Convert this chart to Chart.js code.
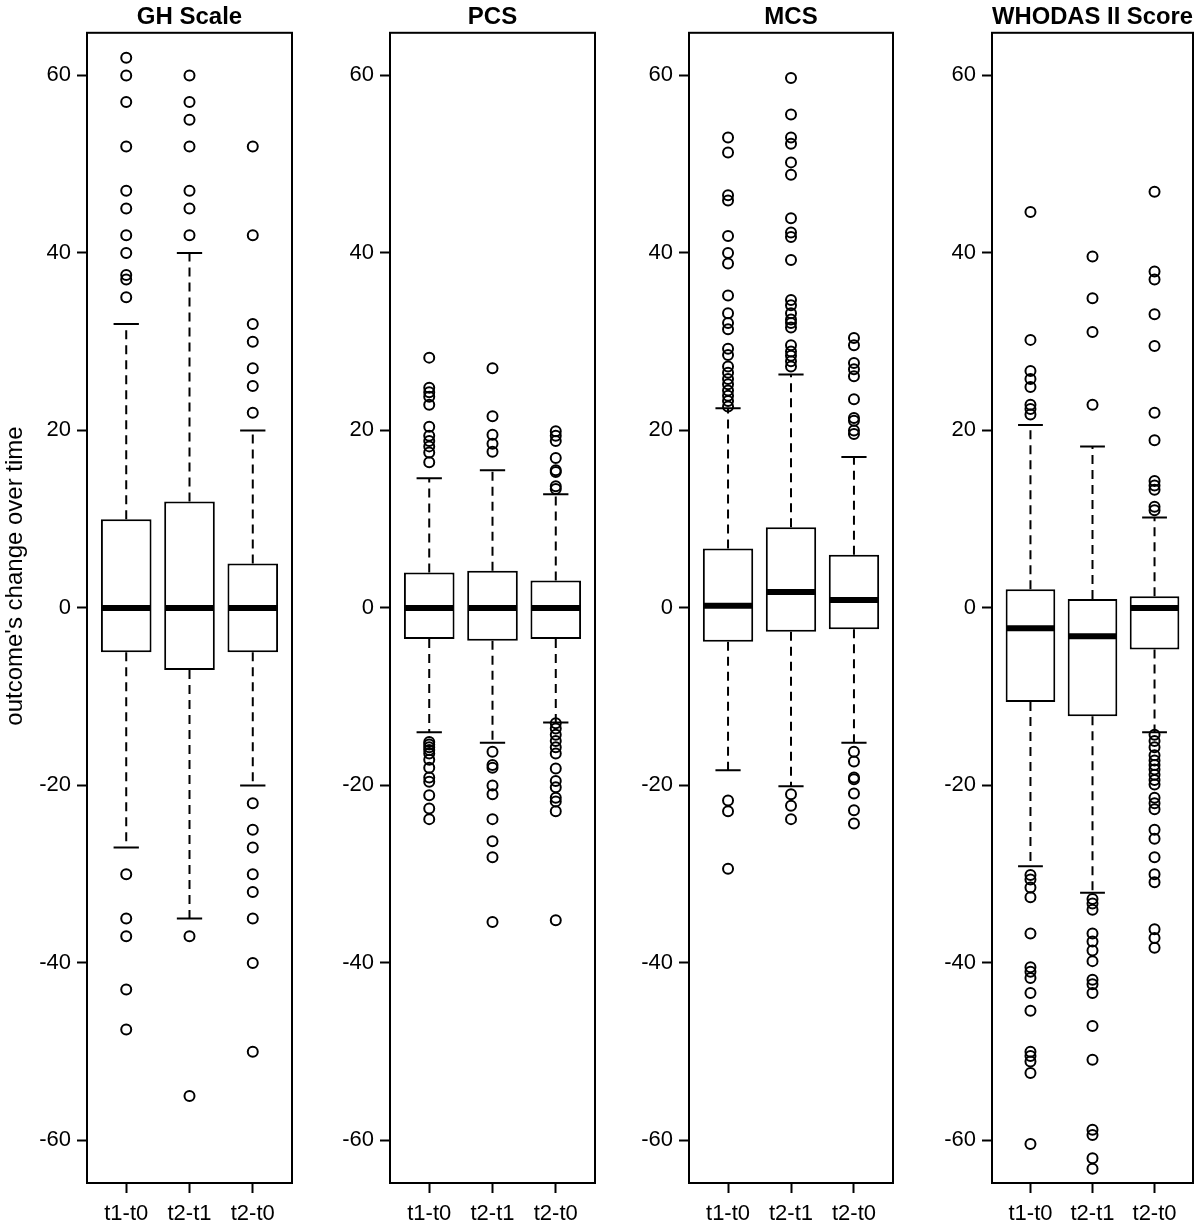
<!DOCTYPE html>
<html>
<head>
<meta charset="utf-8">
<script src="https://cdn.jsdelivr.net/npm/chart.js@4.4.0/dist/chart.umd.min.js"></script>
<style>
  html, body { margin: 0; padding: 0; background: #fff; }
  #wrap { position: relative; width: 1200px; height: 1228px; overflow: hidden; background: #fff; }
  canvas { position: absolute; top: 0; }
</style>
</head>
<body>
<div id="wrap">
  <canvas id="p0"></canvas>
  <canvas id="p1"></canvas>
  <canvas id="p2"></canvas>
  <canvas id="p3"></canvas>
</div>
<script>
const categories = ["t1-t0", "t2-t1", "t2-t0"];
const yTicks = [-60, -40, -20, 0, 20, 40, 60];
const panelTitles = ["GH Scale", "PCS", "MCS", "WHODAS II Score"];
const yLabel = "outcome's change over time";

// GH Scale
const ghQ1 = [-5, -7, -5];
const ghMed = [0, 0, 0];
const ghQ3 = [10, 12, 5];
const ghLo = [-27, -35, -20];
const ghHi = [32, 40, 20];
const ghOut = [
  [62, 60, 57, 52, 47, 45, 42, 40, 37.5, 37, 35, -30, -35, -37, -43, -47.5],
  [60, 57, 55, 52, 47, 45, 42, -37, -55],
  [52, 42, 32, 30, 27, 25, 22, -22, -25, -27, -30, -32, -35, -40, -50]
];

// PCS
const pcsQ1 = [-3.5, -3.7, -3.5];
const pcsMed = [0, 0, 0];
const pcsQ3 = [4.0, 4.2, 3.1];
const pcsLo = [-14.0, -15.2, -12.9];
const pcsHi = [14.6, 15.5, 12.8];
const pcsOut = [
  [28.2, 24.8, 24.3, 23.8, 22.9, 20.4, 19.4, 18.8, 18.2, 17.5, 16.4, -15.1, -15.4, -15.7, -16.0, -16.4, -17.1, -18.0, -19.1, -19.6, -21.1, -22.6, -23.8],
  [27.0, 21.6, 19.5, 18.5, 17.6, -16.2, -17.7, -18.0, -20.0, -21.0, -23.8, -26.3, -28.1, -35.4],
  [19.9, 19.4, 18.8, 16.9, 15.5, 15.3, 13.7, 13.4, -13.0, -13.6, -14.3, -15.0, -15.7, -16.4, -18.1, -19.5, -20.2, -21.4, -21.8, -22.9, -35.2]
];

// MCS
const mcsQ1 = [-3.8, -2.7, -2.4];
const mcsMed = [0.25, 1.8, 0.9];
const mcsQ3 = [6.7, 9.1, 6.0];
const mcsLo = [-18.3, -20.1, -15.2];
const mcsHi = [22.5, 26.3, 17.0];
const mcsOut = [
  [53.0, 51.3, 46.5, 45.9, 41.9, 40.0, 38.8, 35.2, 33.2, 32.1, 31.4, 29.2, 28.5, 27.2, 26.5, 25.8, 25.2, 24.5, 23.9, 23.3, 22.7, -21.7, -22.9, -29.4],
  [59.7, 55.6, 53.0, 52.3, 50.2, 48.8, 43.9, 42.3, 41.8, 39.2, 34.7, 34.1, 33.2, 32.5, 32.1, 31.6, 29.6, 28.9, 28.4, 27.8, 27.2, -21.0, -22.3, -23.8],
  [30.4, 29.6, 27.6, 26.9, 26.1, 23.5, 21.4, 21.1, 20.0, 19.6, -16.2, -17.3, -19.1, -19.3, -20.9, -22.8, -24.3]
];

// WHODAS II Score
const whQ1 = [-10.6, -12.2, -4.7];
const whMed = [-2.3, -3.2, 0];
const whQ3 = [2.1, 1.0, 1.3];
const whLo = [-29.1, -32.1, -14.0];
const whHi = [20.6, 18.2, 10.2];
const whOut = [
  [44.6, 30.2, 26.7, 25.8, 24.9, 22.9, 22.4, 21.8, -30.1, -30.6, -31.5, -32.6, -36.7, -40.5, -41.0, -41.7, -43.4, -45.4, -50.0, -50.5, -51.1, -52.4, -60.4],
  [39.6, 34.9, 31.1, 22.9, -32.8, -33.3, -34.0, -36.7, -37.6, -38.6, -39.8, -41.9, -42.4, -43.4, -47.1, -50.9, -58.8, -59.4, -62.0, -63.2],
  [46.9, 37.9, 37.0, 33.1, 29.5, 22.0, 18.9, 14.3, 13.8, 13.3, 11.4, 11.0, -14.3, -15.0, -15.7, -16.6, -17.2, -17.7, -18.2, -18.8, -19.4, -19.9, -21.4, -22.0, -22.7, -25.0, -26.0, -28.1, -30.0, -30.9, -36.2, -37.2, -38.3]
];

const panels = [
  { q1: ghQ1, med: ghMed, q3: ghQ3, lo: ghLo, hi: ghHi, out: ghOut },
  { q1: pcsQ1, med: pcsMed, q3: pcsQ3, lo: pcsLo, hi: pcsHi, out: pcsOut },
  { q1: mcsQ1, med: mcsMed, q3: mcsQ3, lo: mcsLo, hi: mcsHi, out: mcsOut },
  { q1: whQ1, med: whMed, q3: whQ3, lo: whLo, hi: whHi, out: whOut }
];

// layout of the four plot frames
const frameLeft = [87, 390, 689, 992];
const frameRight = [293, 596, 894, 1196];
const FONT = "'Liberation Sans', Arial, Helvetica, sans-serif";

Chart.defaults.font.family = FONT;
Chart.defaults.color = "#000";

// whiskers, caps, medians and the frame, drawn through the chart's scales
const boxExtras = {
  id: "boxExtras",
  afterDatasetDraw(chart, args) {
    if (args.index !== 0) return;
    const p = chart.config.options.plugins.boxExtras.panel;
    const x = chart.scales.x, y = chart.scales.y;
    const ctx = chart.ctx;
    ctx.save();
    ctx.strokeStyle = "#000";
    p.q1.forEach((q, i) => {
      const cx = x.getPixelForValue(i + 1);
      const capHalf = (x.getPixelForValue(1.2) - x.getPixelForValue(1));
      const boxHalf = (x.getPixelForValue(1.4) - x.getPixelForValue(1));
      // dashed whiskers
      ctx.lineWidth = 2;
      ctx.setLineDash([9, 6]);
      ctx.beginPath();
      ctx.moveTo(cx, y.getPixelForValue(p.q3[i]));
      ctx.lineTo(cx, y.getPixelForValue(p.hi[i]));
      ctx.moveTo(cx, y.getPixelForValue(p.q1[i]));
      ctx.lineTo(cx, y.getPixelForValue(p.lo[i]));
      ctx.stroke();
      // caps
      ctx.setLineDash([]);
      ctx.beginPath();
      ctx.moveTo(cx - capHalf, y.getPixelForValue(p.hi[i]));
      ctx.lineTo(cx + capHalf, y.getPixelForValue(p.hi[i]));
      ctx.moveTo(cx - capHalf, y.getPixelForValue(p.lo[i]));
      ctx.lineTo(cx + capHalf, y.getPixelForValue(p.lo[i]));
      ctx.stroke();
      // median
      ctx.lineWidth = 6;
      ctx.beginPath();
      ctx.moveTo(cx - boxHalf + 1, y.getPixelForValue(p.med[i]));
      ctx.lineTo(cx + boxHalf - 1, y.getPixelForValue(p.med[i]));
      ctx.stroke();
    });
    ctx.restore();
  },
  afterDraw(chart) {
    const a = chart.chartArea, ctx = chart.ctx;
    ctx.save();
    ctx.strokeStyle = "#000";
    ctx.lineWidth = 2;
    ctx.strokeRect(a.left, a.top, a.right - a.left, a.bottom - a.top);
    const lbl = chart.config.options.plugins.boxExtras.yLabel;
    if (lbl) {
      ctx.translate(15, 576);
      ctx.rotate(-Math.PI / 2);
      ctx.font = "24px " + FONT;
      ctx.fillStyle = "#000";
      ctx.textAlign = "center";
      ctx.textBaseline = "middle";
      ctx.fillText(lbl, 0, 0);
    }
    ctx.restore();
  }
};

function makePanel(i) {
  const p = panels[i];
  const canvas = document.getElementById("p" + i);
  const axisW = i === 0 ? frameLeft[0] : 80;
  const left = frameLeft[i] - axisW;
  const padRight = i === 3 ? 1200 - frameRight[3] : 6;
  const width = frameRight[i] - left + padRight;
  canvas.style.left = left + "px";
  canvas.width = width;
  canvas.height = 1228;

  const boxData = categories.map((c, k) => ({ x: k + 1, y: [p.q1[k], p.q3[k]] }));
  const outData = [];
  p.out.forEach((vals, k) => vals.forEach(v => outData.push({ x: k + 1, y: v })));

  new Chart(canvas, {
    type: "bar",
    data: {
      datasets: [
        {
          type: "bar",
          data: boxData,
          backgroundColor: "#fff",
          borderColor: "#000",
          borderWidth: 2,
          borderSkipped: false,
          barPercentage: 0.8,
          categoryPercentage: 1
        },
        {
          type: "scatter",
          data: outData,
          pointStyle: "circle",
          pointRadius: 5,
          pointBorderWidth: 2,
          pointBorderColor: "#000",
          pointBackgroundColor: "rgba(0,0,0,0)"
        }
      ]
    },
    options: {
      responsive: false,
      animation: false,
      events: [],
      layout: { padding: { left: 0, right: padRight, top: 0, bottom: 0 } },
      plugins: {
        legend: { display: false },
        tooltip: { enabled: false },
        title: {
          display: true,
          text: panelTitles[i],
          fullSize: false,
          font: { size: 24, weight: "bold", family: FONT, lineHeight: 1.2 },
          color: "#000",
          padding: { top: 3, bottom: 1 }
        },
        boxExtras: { panel: p, yLabel: i === 0 ? yLabel : null }
      },
      scales: {
        x: {
          type: "linear",
          min: 0.38,
          max: 3.62,
          offset: false,
          afterBuildTicks: s => { s.ticks = categories.map((c, k) => ({ value: k + 1 })); },
          afterFit: s => { s.height = 45; },
          ticks: {
            callback: v => categories[v - 1],
            font: { size: 22, family: FONT },
            color: "#000",
            padding: 8,
            maxRotation: 0
          },
          grid: { drawOnChartArea: false, drawTicks: true, tickLength: 10, tickWidth: 2, tickColor: "#000", offset: false },
          border: { display: false }
        },
        y: {
          type: "linear",
          min: -64.8,
          max: 64.8,
          afterBuildTicks: s => { s.ticks = yTicks.map(v => ({ value: v })); },
          afterFit: s => { s.width = axisW; },
          ticks: {
            font: { size: 22, family: FONT },
            color: "#000",
            padding: 6
          },
          grid: { drawOnChartArea: false, drawTicks: true, tickLength: 10, tickWidth: 2, tickColor: "#000" },
          border: { display: false }
        }
      }
    },
    plugins: [boxExtras]
  });
}

panels.forEach((p, i) => makePanel(i));
</script>
</body>
</html>
